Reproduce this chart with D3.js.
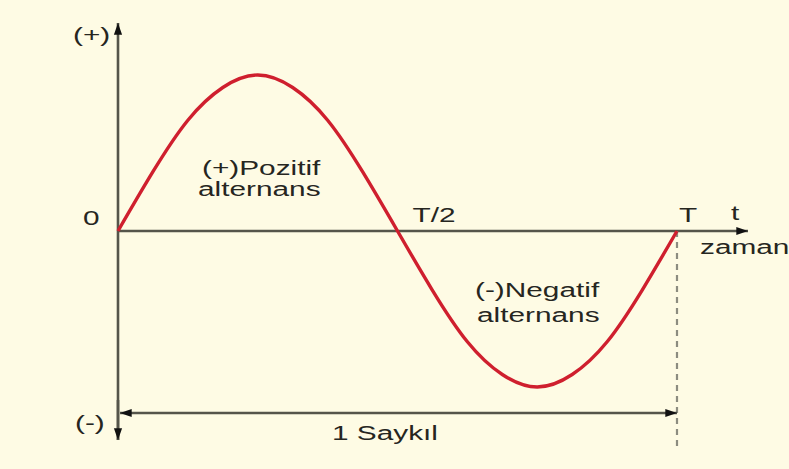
<!DOCTYPE html>
<html>
<head>
<meta charset="utf-8">
<script src="https://cdn.jsdelivr.net/npm/d3@7"></script>
<style>
  html, body { margin: 0; padding: 0; background: #fefbe4; }
  svg { display: block; }
  text { font-family: "Liberation Sans", Arial, sans-serif; fill: #26261f; }
</style>
</head>
<body>
<svg id="chart" width="789" height="469"></svg>
<script>
// One full cycle of alternating voltage, sampled every 1/16 of the period T
const phase = [0, 0.0625, 0.125, 0.1875, 0.25, 0.3125, 0.375, 0.4375, 0.5,
               0.5625, 0.625, 0.6875, 0.75, 0.8125, 0.875, 0.9375, 1];
const amplitude = [0, 0.38, 0.71, 0.92, 1, 0.92, 0.71, 0.38, 0,
                   -0.38, -0.71, -0.92, -1, -0.92, -0.71, -0.38, 0];
// Labels on the time axis
const timeTicks = [0.5, 1];
const timeTickLabels = ["T/2", "T"];

const svg = d3.select("#chart");

const x = d3.scaleLinear().domain([0, 1]).range([118, 677]);
const y = d3.scaleLinear().domain([-1, 1]).range([387, 75]);

const axisColor = "#55554a";

// arrow heads
const defs = svg.append("defs");
defs.append("marker")
  .attr("id", "arrow")
  .attr("viewBox", "0 0 10 10")
  .attr("refX", 10).attr("refY", 5)
  .attr("markerWidth", 4.5).attr("markerHeight", 4.5)
  .attr("markerUnits", "strokeWidth")
  .attr("orient", "auto-start-reverse")
  .append("path").attr("d", "M0,1.5 L10,5 L0,8.5 Z").attr("fill", "#111");

// vertical axis (+) up / (-) down
svg.append("line")
  .attr("x1", x(0)).attr("x2", x(0))
  .attr("y1", 440).attr("y2", 23)
  .attr("stroke", axisColor).attr("stroke-width", 2.6)
  .attr("marker-end", "url(#arrow)");
svg.append("line")
  .attr("x1", x(0)).attr("x2", x(0))
  .attr("y1", 400).attr("y2", 440)
  .attr("stroke", axisColor).attr("stroke-width", 2.6)
  .attr("marker-end", "url(#arrow)");

// time axis along zero amplitude
svg.append("line")
  .attr("x1", x(0)).attr("x2", 748)
  .attr("y1", y(0)).attr("y2", y(0))
  .attr("stroke", axisColor).attr("stroke-width", 2.6)
  .attr("marker-end", "url(#arrow)");

// dashed marker at the end of the period
svg.append("line")
  .attr("x1", x(1)).attr("x2", x(1))
  .attr("y1", y(0)).attr("y2", 447)
  .attr("stroke", "#8c8c80").attr("stroke-width", 2.2)
  .attr("stroke-dasharray", "6,5");

// one-cycle span arrow
svg.append("line")
  .attr("x1", x(0) + 2).attr("x2", x(1))
  .attr("y1", 413).attr("y2", 413)
  .attr("stroke", axisColor).attr("stroke-width", 2.6)
  .attr("marker-start", "url(#arrow)")
  .attr("marker-end", "url(#arrow)");

// waveform
const pts = phase.map((p, i) => [p, amplitude[i]]);
svg.append("path")
  .datum(pts)
  .attr("d", d3.line().x(d => x(d[0])).y(d => y(d[1])).curve(d3.curveNatural))
  .attr("fill", "none")
  .attr("stroke", "#cf1f2e")
  .attr("stroke-width", 3.4);

// texts: wide lettering, stretched horizontally
const fs = 21;
const sx = 1.42;
function label(tx, ty, str, anchor) {
  svg.append("g")
    .attr("transform", `translate(${tx},${ty}) scale(${sx},1)`)
    .append("text")
    .attr("text-anchor", anchor || "start")
    .attr("font-size", fs)
    .text(str);
}
label(73, 42, "(+)");
label(75, 430, "(-)");
label(83, 225, "0");

timeTicks.forEach((d, i) => {
  label(i === 0 ? x(d) + 15 : x(d) + 2, 222, timeTickLabels[i]);
});

label(731, 220, "t");
label(700, 254, "zaman");

label(202, 175, "(+)Pozitif");
label(198, 196, "alternans");
label(475, 297, "(-)Negatif");
label(477, 322, "alternans");

label(385, 440, "1 Saykıl", "middle");
</script>
</body>
</html>
